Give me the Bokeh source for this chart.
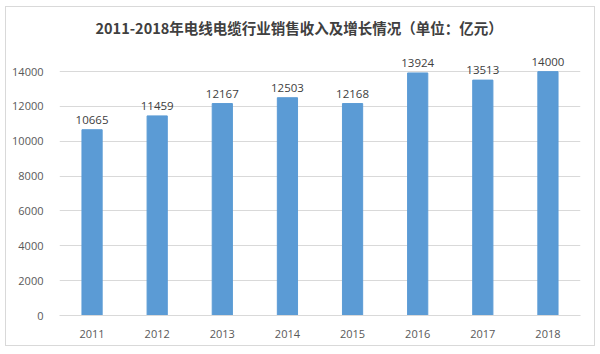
from bokeh.plotting import figure
from bokeh.models import ColumnDataSource, FixedTicker, LabelSet
from bokeh.core.properties import value
from bokeh.embed import file_html
from bokeh.resources import INLINE

years = ["2011", "2012", "2013", "2014", "2015", "2016", "2017", "2018"]
revenue = [10665, 11459, 12167, 12503, 12168, 13924, 13513, 14000]
y_ticks = [0, 2000, 4000, 6000, 8000, 10000, 12000, 14000]
title_text = "2011-2018年电线电缆行业销售收入及增长情况（单位：亿元）"

src = ColumnDataSource(dict(x=years, top=revenue, label=[str(v) for v in revenue]))

p = figure(x_range=years, y_range=(0, 15500), width=590, height=340,
           output_backend="svg", toolbar_location=None,
           min_border_left=53, min_border_right=16, min_border_top=38, min_border_bottom=32,
           margin=(6, 5, 8, 5),
           styles={"border": "1px solid #d9d9d9"})
p.title.text = title_text
p.title.text_font = "Noto Sans CJK SC"
p.title.text_font_size = "14.5px"
p.title.text_font_style = "bold"
p.title.text_color = "#404040"
p.title.align = "left"
p.title.offset = 36
p.title.standoff = 15

p.vbar(x="x", top="top", width=0.31, source=src, color="#5b9bd5")
labels = LabelSet(x="x", y="top", text="label", source=src, text_align="center",
                  text_baseline="bottom", y_offset=6, text_font_size="11.5px",
                  text_font=value("Open Sans"), text_color="#404040")
p.add_layout(labels)

p.yaxis.ticker = FixedTicker(ticks=y_ticks)
p.ygrid.ticker = FixedTicker(ticks=y_ticks)
p.ygrid.grid_line_color = "#d9d9d9"
p.xgrid.grid_line_color = None
p.outline_line_color = None
p.background_fill_color = "white"

for ax in (p.xaxis, p.yaxis):
    ax.major_tick_line_color = None
    ax.minor_tick_line_color = None
    ax.major_label_text_font = "Open Sans"
    ax.major_label_text_font_size = "11px"
    ax.major_label_text_color = "#595959"
p.yaxis.axis_line_color = None
p.xaxis.axis_line_color = "#d9d9d9"
p.yaxis.major_label_standoff = 10
p.xaxis.major_label_standoff = 8
p.x_range.range_padding = 0

open("out.html", "w").write(file_html(p, INLINE))
